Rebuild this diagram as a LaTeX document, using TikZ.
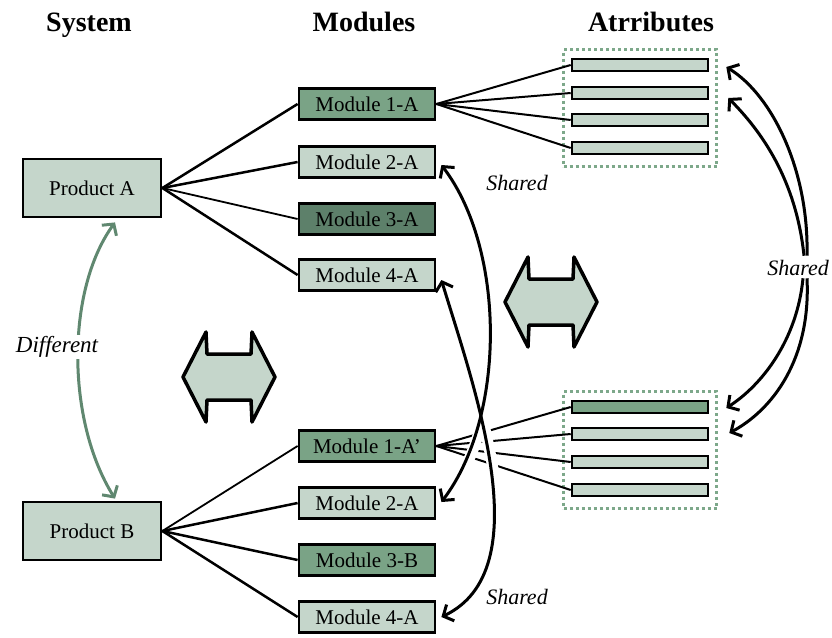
\documentclass[tikz,border=0pt]{standalone}
\usepackage{fontspec}
\setmainfont{Liberation Serif}
\usetikzlibrary{arrows.meta,calc}

\definecolor{sage}{RGB}{197,214,203}
\definecolor{moss}{RGB}{122,163,134}
\definecolor{pine}{RGB}{93,128,106}
\definecolor{dotgreen}{RGB}{125,168,138}
\definecolor{diffgreen}{RGB}{96,136,112}

\begin{document}
\begin{tikzpicture}[x=1pt,y=-1pt,
    head/.style={font=\fontsize{28}{31}\selectfont\bfseries, anchor=base},
    prod/.style={draw, line width=2.8pt, fill=sage, minimum width=138pt, minimum height=58pt, font=\fontsize{21}{25}\selectfont},
    mod/.style={draw, line width=2.8pt, minimum width=136pt, minimum height=31pt, inner sep=0pt, font=\fontsize{21}{25}\selectfont},
    bar/.style={draw, line width=2.6pt, fill=sage, minimum width=136pt, minimum height=12pt, inner sep=0pt},
    group/.style={draw=dotgreen, line width=3pt, dash pattern=on 3pt off 3pt, minimum width=153pt, minimum height=117pt},
    note/.style={font=\fontsize{22}{26}\selectfont\itshape},
    link/.style={line width=2.5pt},
    barb/.tip={Straight Barb[length=8pt,width=18pt]},
    shared/.style={line width=3pt, barb-barb},
    toattr/.style={line width=3pt, -barb},
    halo/.style={white, line width=11pt, shorten >=18pt, shorten <=18pt},
    diff/.style={diffgreen, line width=3pt, barb-barb},
    swap/.style={draw, line width=3.5pt, line join=round, fill=sage}]
    \useasboundingbox (0,0) rectangle (832,637);

    % column headings
    \node[head] (sys)   at (89,31)  {System};
    \node[head] (mods)  at (364,31) {Modules};
    \node[head] (attrs) at (651,31) {Atrributes};

    % the two systems
    \node[prod] (prodA) at (92,188) {Product A};
    \node[prod] (prodB) at (92,531) {Product B};

    % modules of A
    \node[mod, fill=moss] (modA1) at (367,104) {Module 1-A};
    \node[mod, fill=sage] (modA2) at (367,162) {Module 2-A};
    \node[mod, fill=pine] (modA3) at (367,219) {Module 3-A};
    \node[mod, fill=sage] (modA4) at (367,275) {Module 4-A};

    % modules of B
    \node[mod, fill=moss] (modB1) at (367,446) {Module 1-A'};
    \node[mod, fill=sage] (modB2) at (367,503) {Module 2-A};
    \node[mod, fill=moss] (modB3) at (367,560) {Module 3-B};
    \node[mod, fill=sage] (modB4) at (367,617) {Module 4-A};

    % attribute sets
    \node[group] (grpA) at (640,108) {};
    \node[bar] (attrA1) at (640,65)  {};
    \node[bar] (attrA2) at (640,93)  {};
    \node[bar] (attrA3) at (640,120) {};
    \node[bar] (attrA4) at (640,148) {};

    \node[group] (grpB) at (640,450) {};
    \node[bar, fill=moss] (attrB1) at (640,407) {};
    \node[bar] (attrB2) at (640,434) {};
    \node[bar] (attrB3) at (640,462) {};
    \node[bar] (attrB4) at (640,490) {};

    % system -> modules
    \draw[link] (prodA.east) -- (modA1.west);
    \draw[link] (prodA.east) -- (modA2.west);
    \draw[line width=1.8pt] (prodA.east) -- (modA3.west);
    \draw[link] (prodA.east) -- (modA4.west);
    \draw[line width=1.8pt] (prodB.east) -- (modB1.west);
    \draw[link] (prodB.east) -- (modB2.west);
    \draw[link] (prodB.east) -- (modB3.west);
    \draw[link] (prodB.east) -- (modB4.west);

    % modules -> attributes
    \draw[line width=2pt] (modA1.east) -- (attrA1.west);
    \draw[line width=2pt] (modA1.east) -- (attrA2.west);
    \draw[line width=2pt] (modA1.east) -- (attrA3.west);
    \draw[line width=2pt] (modA1.east) -- (attrA4.west);
    \draw[line width=2pt] (modB1.east) -- (attrB1.west);
    \draw[line width=2pt] (modB1.east) -- (attrB2.west);
    \draw[line width=2pt] (modB1.east) -- (attrB3.west);
    \draw[line width=2pt] (modB1.east) -- (attrB4.west);

    % double arrows between the columns
    \foreach \cx/\cy in {229/377, 551/302}
        \draw[swap, shift={(\cx,\cy)}] (-46,0) -- (-23,-45) -- (-22,-23) -- (22,-23)
            -- (23,-45) -- (46,0) -- (23,45) -- (22,23) -- (-22,23) -- (-23,45) -- cycle;

    % shared modules (white gap where they cross the links)
    \draw[halo] ($(modA2.east)+(5,3)$) .. controls (506,250) and (506,417) .. ($(modB2.east)+(5,-1)$);
    \draw[halo] ($(modA4.east)+(5,5)$) .. controls (475,390) and (540,570) .. ($(modB4.east)+(5,0)$);
    \draw[shared] ($(modA2.east)+(5,3)$) .. controls (506,250) and (506,417) .. ($(modB2.east)+(5,-1)$);
    \draw[shared] ($(modA4.east)+(5,5)$) .. controls (475,390) and (540,570) .. ($(modB4.east)+(5,0)$);

    \node[note] (shrd1) at (517,183) {Shared};
    \node[note] (shrd2) at (517,597) {Shared};
    \node[note] (shrd3) at (798,268) {Shared};

    % shared attributes
    \draw[toattr] ($(shrd3.north)+(9,-1)$) .. controls (809,170) and (772,95) .. ($(attrA1.east)+(17,2)$);
    \draw[toattr] ($(shrd3.north)+(6,-1)$) .. controls (796,180) and (762,132) .. ($(attrA2.east)+(19,5)$);
    \draw[toattr] ($(shrd3.south)+(5,-1)$) .. controls (797,340) and (762,385) .. ($(attrB1.east)+(17,1)$);
    \draw[toattr] ($(shrd3.south)+(9,-1)$) .. controls (811,360) and (772,410) .. ($(attrB2.east)+(20,-1)$);

    % the systems differ
    \draw[diff] ($(prodA.south)+(23,4)$) .. controls (66,290) and (66,420) .. ($(prodB.north)+(23,-2)$);
    \node[note, fill=white, inner sep=1pt, font=\fontsize{23}{27}\selectfont\itshape] (diffr) at (57,347) {Different};
\end{tikzpicture}
\end{document}
